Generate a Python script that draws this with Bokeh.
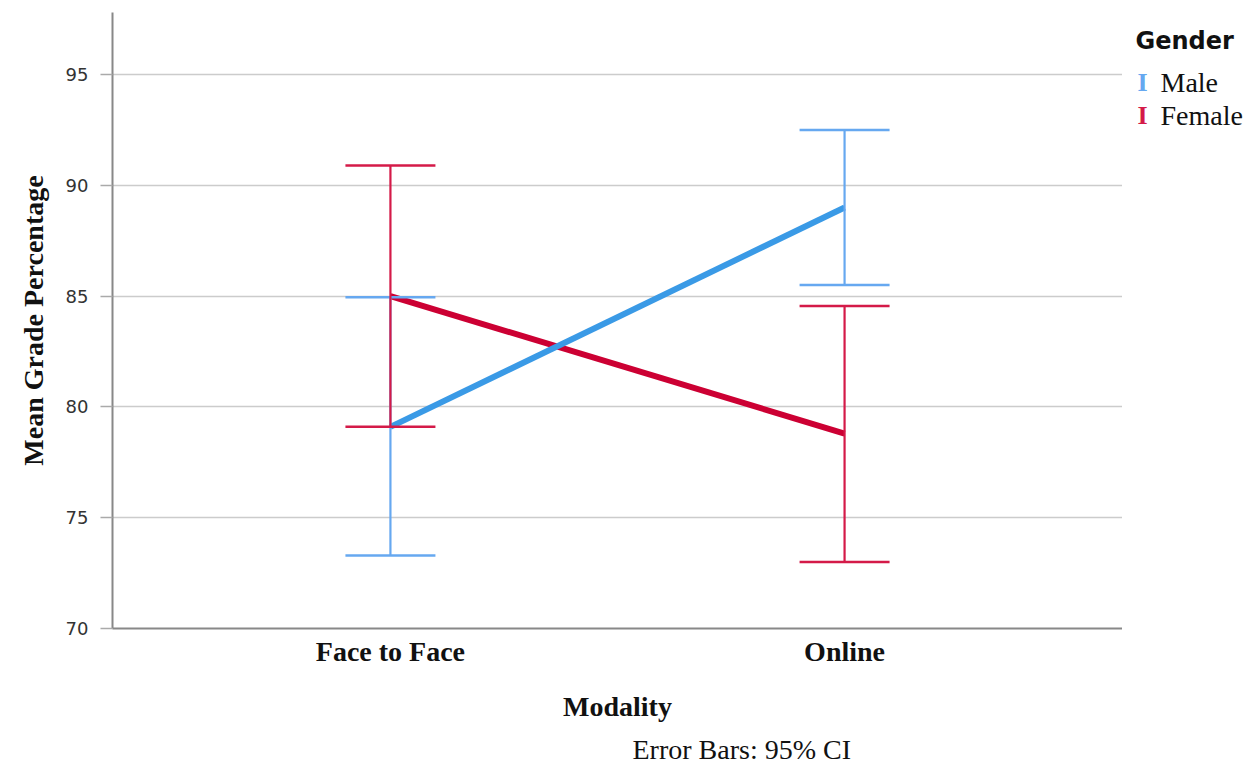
from bokeh.plotting import figure
from bokeh.layouts import row
from bokeh.models import (FactorRange, Range1d, Whisker, TeeHead, ColumnDataSource,
                          Label, Title, FixedTicker)
from bokeh.embed import file_html
from bokeh.resources import INLINE

categories = ["Face to Face", "Online"]
male_mean = [79.1, 89.0]
male_lower = [73.3, 85.5]
male_upper = [84.95, 92.5]
female_mean = [85.0, 78.8]
female_lower = [79.1, 73.0]
female_upper = [90.9, 84.55]
y_ticks = [70, 75, 80, 85, 90, 95]
legend_title = "Gender"
legend_names = ["Male", "Female"]

MALE_LINE = "#3a9ae6"
MALE_BAR = "#66a8f0"
FEMALE_LINE = "#cc0033"
FEMALE_BAR = "#d41a48"

p = figure(width=1122, height=772, output_backend="svg", toolbar_location=None,
           x_range=FactorRange(*categories, range_padding=0.112),
           y_range=Range1d(70, 97.8),
           min_border_left=112, min_border_right=0, min_border_top=12, min_border_bottom=144)
p.outline_line_color = None
p.background_fill_color = "white"

male_src = ColumnDataSource(dict(x=categories, mean=male_mean, lower=male_lower, upper=male_upper))
female_src = ColumnDataSource(dict(x=categories, mean=female_mean, lower=female_lower, upper=female_upper))

for src, col in ((male_src, MALE_BAR), (female_src, FEMALE_BAR)):
    w = Whisker(source=src, base="x", upper="upper", lower="lower",
                line_color=col, line_width=2.2,
                upper_head=TeeHead(size=90, line_color=col, line_width=2.5),
                lower_head=TeeHead(size=90, line_color=col, line_width=2.5))
    w.level = "glyph"
    p.add_layout(w)

p.line("x", "mean", source=female_src, line_color=FEMALE_LINE, line_width=6)
p.line("x", "mean", source=male_src, line_color=MALE_LINE, line_width=6)

# axes
p.yaxis.ticker = FixedTicker(ticks=y_ticks)
p.yaxis.minor_tick_line_color = None
p.yaxis.major_tick_out = 12
p.yaxis.major_tick_in = 0
p.yaxis.major_tick_line_color = "#aaaaaa"
p.yaxis.major_tick_line_width = 1.5
p.yaxis.axis_line_color = "#888888"
p.yaxis.axis_line_width = 2
p.yaxis.major_label_text_font = "DejaVu Sans"
p.yaxis.major_label_text_font_size = "18px"
p.yaxis.major_label_text_color = "#333333"
p.yaxis.major_label_standoff = 12
p.yaxis.axis_label = "Mean Grade Percentage"
p.yaxis.axis_label_text_font = "Liberation Serif"
p.yaxis.axis_label_text_font_style = "bold"
p.yaxis.axis_label_text_font_size = "28px"
p.yaxis.axis_label_text_color = "#111111"
p.yaxis.axis_label_standoff = 14

p.xaxis.major_tick_line_color = None
p.xaxis.minor_tick_line_color = None
p.xaxis.axis_line_color = "#888888"
p.xaxis.axis_line_width = 2
p.xaxis.major_label_text_font = "Liberation Serif"
p.xaxis.major_label_text_font_style = "bold"
p.xaxis.major_label_text_font_size = "28px"
p.xaxis.major_label_text_color = "#111111"
p.xaxis.major_label_standoff = 1
p.xaxis.axis_label = "Modality"
p.xaxis.axis_label_text_font = "Liberation Serif"
p.xaxis.axis_label_text_font_style = "bold"
p.xaxis.axis_label_text_font_size = "28px"
p.xaxis.axis_label_text_color = "#111111"
p.xaxis.axis_label_standoff = 21

p.xgrid.grid_line_color = None
p.ygrid.grid_line_color = "#cccccc"
p.ygrid.grid_line_width = 1.5

p.add_layout(Title(text="Error Bars: 95% CI", align="left", offset=520, standoff=14,
                   text_font="Liberation Serif", text_font_style="normal",
                   text_font_size="28px", text_color="#111111"), "below")

# legend panel: its frame is aligned with the main frame (page y 12..628)
lg = figure(width=124, height=772, output_backend="svg", toolbar_location=None,
            x_range=Range1d(0, 124), y_range=Range1d(628, 12),
            x_axis_location=None, y_axis_location=None,
            min_border=0, min_border_left=0, min_border_right=0,
            min_border_top=12, min_border_bottom=144)
lg.grid.visible = False
lg.outline_line_color = None

lg.add_layout(Label(x=13, y=40, text=legend_title,
                    text_font="DejaVu Sans", text_font_style="bold", text_font_size="24px",
                    text_baseline="middle", text_color="#111111"))
for i, (name, col) in enumerate(zip(legend_names, (MALE_BAR, FEMALE_BAR))):
    yy = 82 + 33 * i
    lg.add_layout(Label(x=20, y=yy, text="I",
                        text_font="Liberation Serif", text_font_style="bold", text_font_size="26px",
                        text_align="center", text_baseline="middle", text_color=col))
    lg.add_layout(Label(x=38, y=yy, text=name,
                        text_font="Liberation Serif", text_font_size="28px",
                        text_baseline="middle", text_color="#111111"))

open("out.html", "w").write(file_html(row(p, lg), INLINE))
